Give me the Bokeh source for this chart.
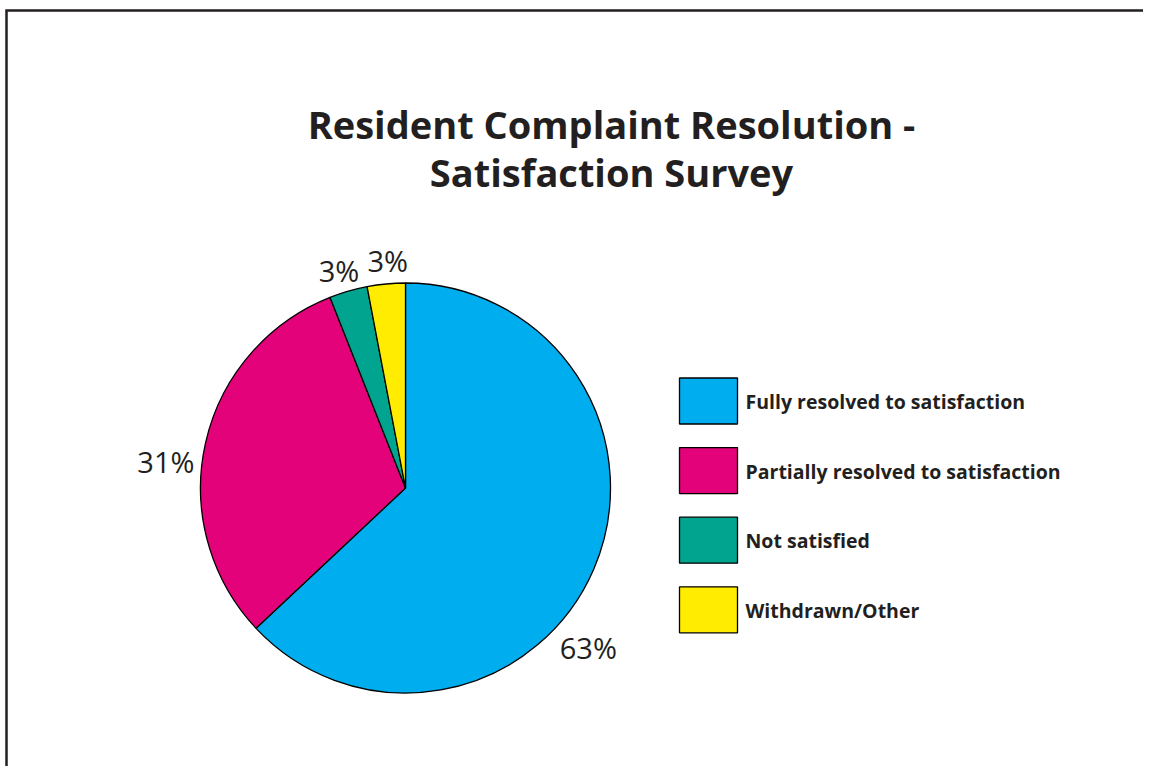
import math
from bokeh.plotting import figure
from bokeh.models import Range1d, ColumnDataSource
from bokeh.core.properties import value
from bokeh.embed import file_html
from bokeh.resources import INLINE

# ---- data ----
categories = ["Fully resolved to satisfaction", "Partially resolved to satisfaction",
              "Not satisfied", "Withdrawn/Other"]
percent = [63, 31, 3, 3]
colors = ["#00adef", "#e3027a", "#00a48f", "#ffec00"]
title_lines = ["Resident Complaint Resolution -", "Satisfaction Survey"]

# ---- layout / style (page pixel units) ----
W, H = 1143, 766
CX, CY, R = 405, -487.5, 205
label_angle_deg = [-41.2, 173.9, 107.1, 94.5]
label_radius = [243, 241, 226, 227]
TXT = "#231f20"
FONT = "Open Sans"

p = figure(width=W, height=H, output_backend="svg", toolbar_location=None,
           x_range=Range1d(0, W), y_range=Range1d(-H, 0),
           min_border=0, outline_line_color=None)
p.axis.visible = False
p.grid.visible = False
p.background_fill_color = "white"
p.border_fill_color = "white"

# frame (top and left edges visible)
p.line(x=[6, 6, W + 10], y=[-H - 10, -10, -10], line_color="#231f20", line_width=2.5,
       line_join="miter")

# pie wedges: start at 12 o'clock, clockwise
total = sum(percent)
ends, starts = [], []
acc = 0.0
for v in percent:
    a0 = math.pi / 2 - 2 * math.pi * acc / total
    acc += v
    a1 = math.pi / 2 - 2 * math.pi * acc / total
    starts.append(a1)
    ends.append(a0)
src = ColumnDataSource(dict(start=starts, end=ends, color=colors))
p.wedge(x=CX, y=CY, radius=R, start_angle="start", end_angle="end",
        fill_color="color", line_color="black", line_width=1.3, source=src)

# percentage labels
lx = [CX + r * math.cos(math.radians(a)) for a, r in zip(label_angle_deg, label_radius)]
ly = [CY + r * math.sin(math.radians(a)) + 1 for a, r in zip(label_angle_deg, label_radius)]
p.text(x=lx, y=ly, text=[f"{v}%" for v in percent], text_font=value(FONT),
       text_font_size="29px", text_color=TXT, text_align="center",
       text_baseline="alphabetic")

# title
p.text(x=[611, 611], y=[-123, -171], text=title_lines, text_font=value(FONT),
       text_font_size="38px", text_font_style="bold", text_color=TXT,
       text_align="center", text_baseline="alphabetic")

# legend
box_cy = [-(400.5 + i * 69.6) for i in range(len(categories))]
p.rect(x=[708] * len(categories), y=box_cy, width=58, height=46,
       fill_color=colors, line_color="black", line_width=1.3)
p.text(x=[745] * len(categories), y=[c - 0.5 for c in box_cy], text=categories,
       text_font=value(FONT), text_font_size="19.5px", text_font_style="bold",
       text_color=TXT, text_align="left", text_baseline="alphabetic")

open("out.html", "w").write(file_html(p, INLINE))
